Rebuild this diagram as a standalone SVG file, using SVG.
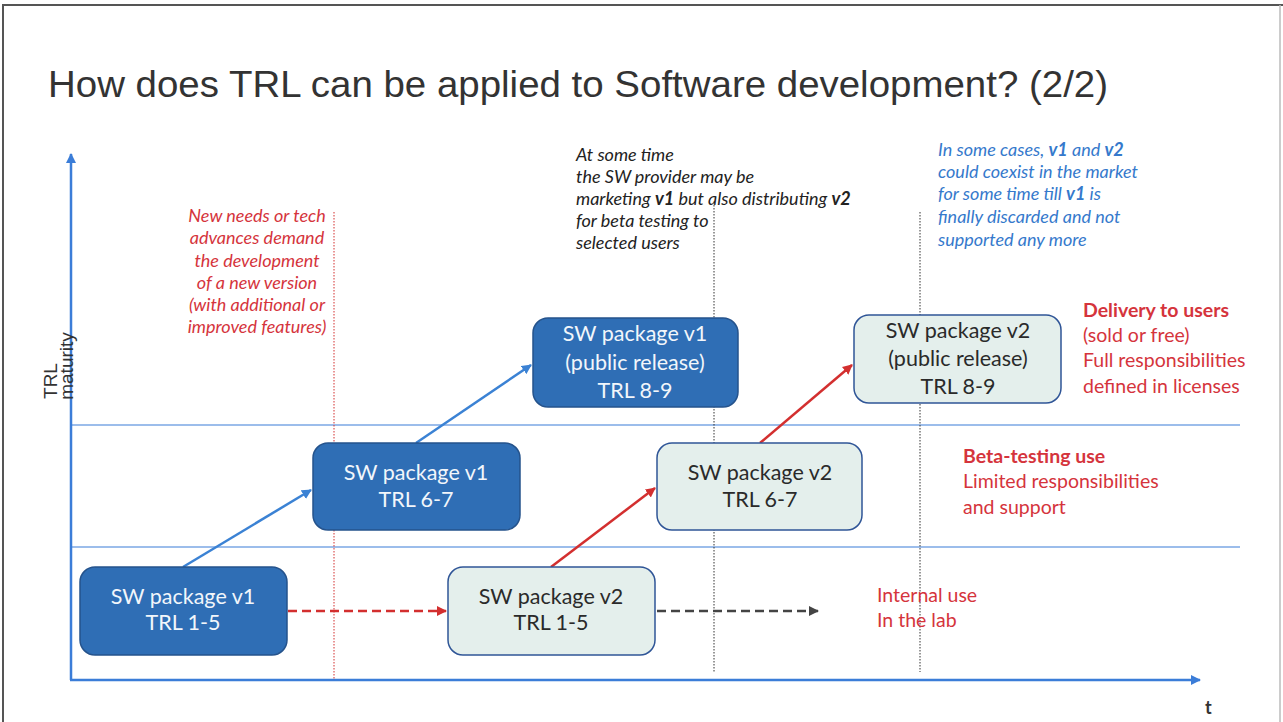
<svg xmlns="http://www.w3.org/2000/svg" width="1283" height="722" viewBox="0 0 1283 722">
<style>
.title{font-family:"Liberation Sans",Arial,sans-serif;font-size:37px;fill:#333}
.box1{fill:#2F6EB5;stroke:#25538C;stroke-width:1.5}
.box2{fill:#E4EFEC;stroke:#2F5597;stroke-width:1.5}
.t1{font-family:Lato,"Open Sans",sans-serif;font-size:21.5px;fill:#F2F6FB;text-anchor:middle}
.t2{font-family:Lato,"Open Sans",sans-serif;font-size:21.5px;fill:#2a2a2a;text-anchor:middle}
.note{font-family:Lato,"Open Sans",sans-serif;font-size:18px;font-style:italic}
.lab{font-family:Lato,"Open Sans",sans-serif;font-size:19.5px;fill:#D5343C}
.axis{stroke:#3B7DD8;stroke-width:2.5;fill:none}
.hl{stroke:#3B7DD8;stroke-width:1.2;fill:none}
.blue{stroke:#3B82D4;stroke-width:2.5;fill:none}
.red{stroke:#D32F2F;stroke-width:2.5;fill:none}
</style>
<defs>
<marker id="mb" viewBox="0 0 10 10" refX="9" refY="5" markerWidth="4" markerHeight="4" orient="auto"><path d="M0,0L10,5L0,10z" fill="#3B82D4"/></marker>
<marker id="mr" viewBox="0 0 10 10" refX="9" refY="5" markerWidth="4" markerHeight="4" orient="auto"><path d="M0,0L10,5L0,10z" fill="#D32F2F"/></marker>
<marker id="mk" viewBox="0 0 10 10" refX="9" refY="5" markerWidth="4" markerHeight="4" orient="auto"><path d="M0,0L10,5L0,10z" fill="#444"/></marker>
<marker id="ma" viewBox="0 0 10 10" refX="9" refY="5" markerWidth="4" markerHeight="4" orient="auto"><path d="M0,0L10,5L0,10z" fill="#3B7DD8"/></marker>
</defs>
<rect x="0" y="0" width="1283" height="722" fill="#fff"/>
<path d="M3,722V5H1283" stroke="#555" stroke-width="2" fill="none"/>
<path d="M1280,5V722" stroke="#bbb" stroke-width="1.5" fill="none"/>
<text class="title" x="48" y="97" textLength="1060" lengthAdjust="spacingAndGlyphs">How does TRL can be applied to Software development? (2/2)</text>

<g id="axes">
<path class="axis" d="M71,680V154" marker-end="url(#ma)"/>
<path class="axis" d="M70,680H1200" marker-end="url(#ma)"/>
<path class="hl" d="M71,425H1240M71,547H1240"/>
<text x="1205" y="714" font-family="Lato,'Open Sans',sans-serif" font-size="18" font-weight="bold" fill="#333">t</text>
<text transform="translate(57,381) rotate(-90)" font-family="'Liberation Sans',Arial,sans-serif" font-size="19" fill="#333" text-anchor="middle">TRL</text>
<text transform="translate(73,366) rotate(-90)" font-family="'Liberation Sans',Arial,sans-serif" font-size="19" fill="#333" text-anchor="middle">maturity</text>
</g>

<g id="guides">
<path d="M334,212V680" stroke="#D32F2F" stroke-width="1" stroke-dasharray="1.5,1.5" fill="none"/>
<path d="M714,205V672M920,212V672" stroke="#333" stroke-width="1" stroke-dasharray="1.5,1.5" fill="none"/>
</g>

<g id="connectors">
<path class="blue" d="M183,567L311,490" marker-end="url(#mb)"/>
<path class="blue" d="M416,443L531,365" marker-end="url(#mb)"/>
<path class="red" d="M551,567L655,488" marker-end="url(#mr)"/>
<path class="red" d="M760,443L852,365" marker-end="url(#mr)"/>
<path class="red" d="M288,611H446" stroke-dasharray="9,5" marker-end="url(#mr)"/>
<path d="M657,611H818" stroke="#444" stroke-width="2.5" fill="none" stroke-dasharray="9,5" marker-end="url(#mk)"/>
</g>

<g id="n1"><rect class="box1" x="80" y="567" width="207" height="88" rx="15"/><text class="t1" x="183" y="604">SW package v1</text><text class="t1" x="183" y="630">TRL 1-5</text></g>
<g id="n2"><rect class="box1" x="313" y="443" width="207" height="87" rx="15"/><text class="t1" x="416" y="480">SW package v1</text><text class="t1" x="416" y="507">TRL 6-7</text></g>
<g id="n3"><rect class="box1" x="533" y="318" width="205" height="89" rx="15"/><text class="t1" x="635" y="341">SW package v1</text><text class="t1" x="635" y="370">(public release)</text><text class="t1" x="635" y="398">TRL 8-9</text></g>
<g id="n4"><rect class="box2" x="448" y="567" width="207" height="88" rx="15"/><text class="t2" x="551" y="604">SW package v2</text><text class="t2" x="551" y="630">TRL 1-5</text></g>
<g id="n5"><rect class="box2" x="657" y="443" width="205" height="87" rx="15"/><text class="t2" x="760" y="480">SW package v2</text><text class="t2" x="760" y="507">TRL 6-7</text></g>
<g id="n6"><rect class="box2" x="854" y="315" width="207" height="88" rx="15"/><text class="t2" x="958" y="338">SW package v2</text><text class="t2" x="958" y="366">(public release)</text><text class="t2" x="958" y="394">TRL 8-9</text></g>

<g id="note-red" class="note" fill="#D5343C" text-anchor="middle">
<text x="257" y="222">New needs or tech</text>
<text x="257" y="244">advances demand</text>
<text x="257" y="267">the  development</text>
<text x="257" y="289">of a new version</text>
<text x="257" y="311">(with additional or</text>
<text x="257" y="333">improved features)</text>
</g>
<g id="note-black" class="note" fill="#222">
<text x="576" y="161">At some time</text>
<text x="576" y="183">the SW provider may be</text>
<text x="576" y="205">marketing <tspan font-weight="bold">v1</tspan> but also distributing <tspan font-weight="bold">v2</tspan></text>
<text x="576" y="227">for beta testing to</text>
<text x="576" y="249">selected users</text>
</g>
<g id="note-blue" class="note" fill="#3579CC">
<text x="938" y="156">In some cases, <tspan font-weight="bold">v1</tspan> and <tspan font-weight="bold">v2</tspan></text>
<text x="938" y="178">could coexist in the market</text>
<text x="938" y="200">for some time till <tspan font-weight="bold">v1</tspan> is</text>
<text x="938" y="223">finally discarded and not</text>
<text x="938" y="246">supported any more</text>
</g>
<g id="labels" class="lab">
<text x="1083" y="317" font-weight="bold">Delivery to users</text>
<text x="1083" y="342">(sold or free)</text>
<text x="1083" y="367">Full responsibilities</text>
<text x="1083" y="393">defined in licenses</text>
<text x="963" y="463" font-weight="bold">Beta-testing use</text>
<text x="963" y="488">Limited responsibilities</text>
<text x="963" y="514">and support</text>
<text x="877" y="602">Internal use</text>
<text x="877" y="627">In the lab</text>
</g>
</svg>
